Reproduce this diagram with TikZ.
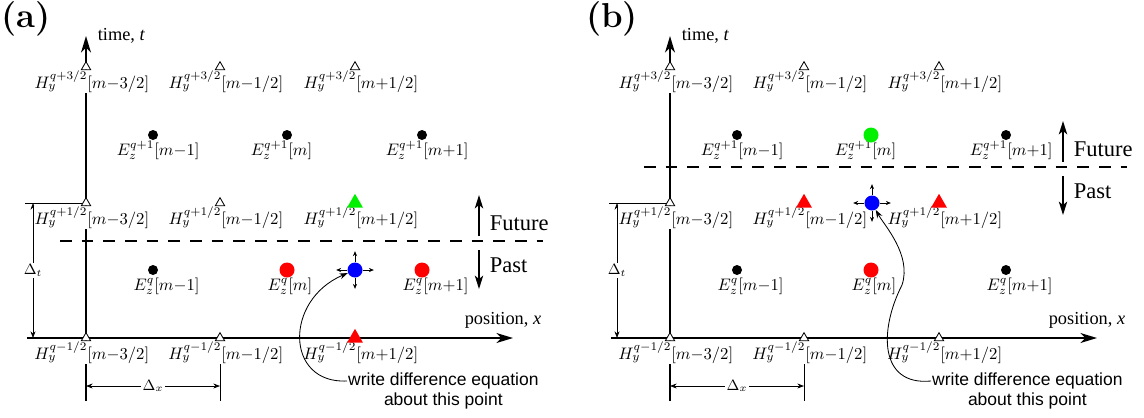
\documentclass[tikz,border=0pt]{standalone}
\usepackage{fontspec}
\newfontfamily\capfont{Liberation Serif}
\newfontfamily\notefont{Liberation Sans}
\usetikzlibrary{arrows.meta,positioning,shapes.geometric}
\definecolor{oldcol}{RGB}{255,0,0}
\definecolor{newcol}{RGB}{0,240,0}
\definecolor{hubcol}{RGB}{0,0,255}

\begin{document}
\fontsize{10}{12}\selectfont
\begin{tikzpicture}[
    x=0.6pt, y=-0.6pt,
    axisline/.style={line width=1pt, -{Stealth[length=10pt,width=6pt,inset=3pt]}},
    hmark/.style={regular polygon, regular polygon sides=3, draw, fill=white, line width=0.5pt, inner sep=0pt, minimum size=6.4pt},
    hold/.style={regular polygon, regular polygon sides=3, fill=oldcol, inner sep=0pt, minimum size=11pt},
    hnew/.style={hold, fill=newcol},
    emark/.style={circle, fill=black, inner sep=0pt, minimum size=6pt},
    eold/.style={circle, fill=oldcol, inner sep=0pt, minimum size=9pt},
    enew/.style={eold, fill=newcol},
    hub/.style={eold, fill=hubcol},
    fld/.style={anchor=base west, fill=white, inner sep=0.5pt},
    axlbl/.style={font=\capfont\fontsize{11}{13}\selectfont},
    tense/.style={font=\capfont\fontsize{13.5}{15}\selectfont, anchor=west},
    note/.style={font=\notefont\fontsize{10.5}{12}\selectfont, inner sep=0.5pt},
    dimline/.style={line width=0.4pt, {Stealth[length=4pt,width=3pt]}-{Stealth[length=4pt,width=3pt]}},
    thin/.style={line width=0.4pt},
    flow/.style={line width=1pt, -{Stealth[length=8pt,width=5pt,inset=2pt]}},
    nudge/.style={line width=0.5pt, -{Stealth[length=3pt,width=2.5pt]}},
]
\useasboundingbox (0,0) rectangle (1144,417);
\node[font=\huge\bfseries] (taga) at (26,19) {(a)};
\node[font=\huge\bfseries] (tagb) at (612,19) {(b)};

% both panels: axes, grid labels, dimensions
\foreach \pn/\dx/\dy in {a/0/241, b/584/167} {
\begin{scope}[xshift={\dx*0.6pt}]
  \draw[axisline] (86,401) -- (86,36);
  \draw[axisline] (27,338) -- (513,338);
  \node[axlbl, anchor=west] (\pn time) at (92,36) {time, \textit{t}};
  \node[axlbl] (\pn pos) at (503,320) {position, \textit{x}};
  \draw[thin] (25,203) -- (83,203);
  \draw[dimline] (33,203) -- (33,338) node[midway, fill=white, inner sep=1pt, font=\small] (\pn dt) {$\Delta_t$};
  \draw[thin] (220,362) -- (220,401);
  \draw[dimline] (86,386) -- (220,386) node[midway, fill=white, inner sep=1pt, font=\small] (\pn dx) {$\Delta_x$};
  \draw[line width=1pt, dash pattern=on 7pt off 6pt] (60,\dy) -- (543,\dy);
  \draw[flow] (479,\dy-5) -- (479,\dy-46);
  \node[tense] (\pn fut) at (484,\dy-18) {Future};
  \draw[flow] (479,\dy+9) -- (479,\dy+48);
  \node[tense] (\pn past) at (484,\dy+24) {Past};
  \foreach \py/\sup in {67/{q+3/2}, 203/{q+1/2}, 338/{q-1/2}}
    \foreach \px/\ix in {86/{m{-}3/2}, 220/{m{-}1/2}, 355/{m{+}1/2}}
      \node[fld, xshift={-width("$H_y^{\sup}$")-0.5}] (\pn h\py x\px) at (\px+1,\py+21) {$H_y^{\sup}[\ix]$};
  \foreach \py/\sup in {135/{q+1}, 270/{q}}
    \foreach \px/\ix in {153/{m{-}1}, 287/{m}, 422/{m{+}1}}
      \node[fld, xshift={-width("$E_z^{\sup}$")-0.5}] (\pn e\py x\px) at (\px+1,\py+20) {$E_z^{\sup}[\ix]$};
  \node[note, anchor=west] (\pn wrt) at (347,381) {write difference equation};
  \node[note, below=1pt of \pn wrt] (\pn abt) {about this point};
\end{scope}
}

% panel (a) markers
\foreach \px/\py/\mk [count=\k] in {86/67/hmark, 220/67/hmark, 355/67/hmark,
    86/203/hmark, 220/203/hmark, 355/203/hnew,
    86/338/hmark, 220/338/hmark, 355/338/hold,
    153/135/emark, 287/135/emark, 422/135/emark,
    153/270/emark, 287/270/eold, 422/270/eold}
  \node[\mk] (am\k) at (\px,\py) {};
\node[hub] (ahub) at (355,270) {};
\foreach \a/\ux/\uy in {north/0/-11, south/0/11, east/11/0, west/-11/0}
  \draw[nudge] (ahub.\a) -- ++(\ux,\uy);
\draw[line width=0.5pt, -{Stealth[length=5pt,width=3.5pt]}] (awrt.west) .. controls (285,384) and (284,300) .. (ahub);

% panel (b) markers
\begin{scope}[xshift={584*0.6pt}]
\foreach \px/\py/\mk [count=\k] in {86/67/hmark, 220/67/hmark, 355/67/hmark,
    86/203/hmark, 220/203/hold, 355/203/hold,
    86/338/hmark, 220/338/hmark, 355/338/hmark,
    153/135/emark, 287/135/enew, 422/135/emark,
    153/270/emark, 287/270/eold, 422/270/emark}
  \node[\mk] (bm\k) at (\px,\py) {};
\node[hub] (bhub) at (288,203) {};
\foreach \a/\ux/\uy in {north/0/-11, south/0/11, east/11/0, west/-11/0}
  \draw[nudge] (bhub.\a) -- ++(\ux,\uy);
\draw[line width=0.5pt, -{Stealth[length=5pt,width=3.5pt]}] (bwrt.west) .. controls (295,386) and (295,330) .. (318,285) .. controls (328,255) and (300,225) .. (bhub);
\end{scope}
\end{tikzpicture}
\end{document}
